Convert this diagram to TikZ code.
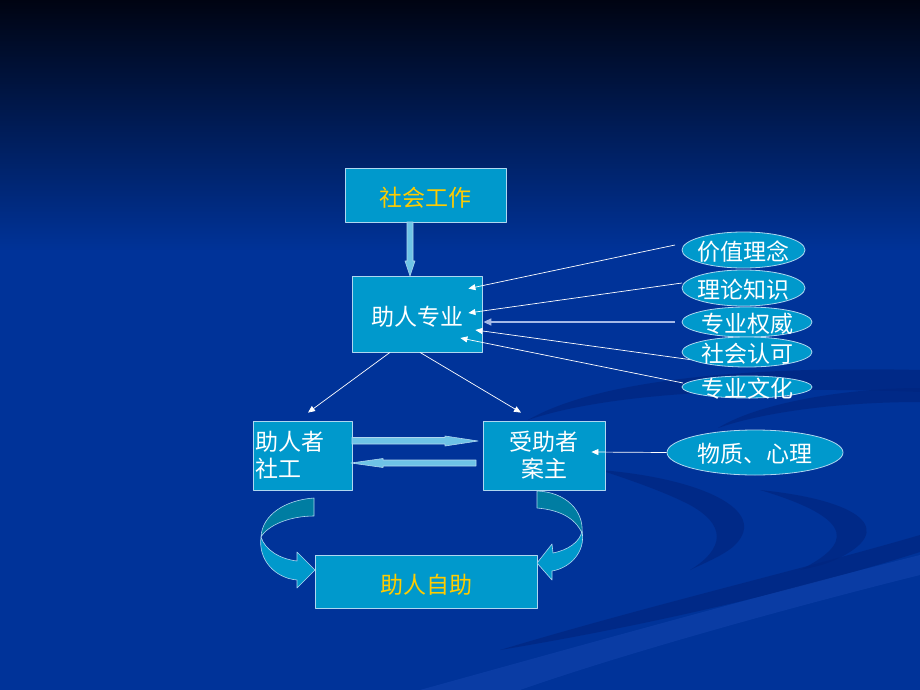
\documentclass[tikz,border=0pt]{standalone}
\usepackage{fontspec}
\newfontfamily\cjk{Noto Sans CJK SC}
\usetikzlibrary{shapes.geometric,arrows.meta,calc}
\definecolor{bgblue}{RGB}{0,51,153}
\definecolor{topdark}{RGB}{0,4,18}
\definecolor{boxfill}{RGB}{0,153,204}
\definecolor{boxline}{RGB}{175,215,240}
\definecolor{gold}{RGB}{255,204,0}
\definecolor{darkteal}{RGB}{0,125,162}
\definecolor{barfill}{RGB}{110,195,230}
\definecolor{thickline}{RGB}{165,185,230}
\definecolor{swdark}{RGB}{0,38,128}
\definecolor{swlight}{RGB}{20,70,175}
\newcommand\lowtext[1]{\raisebox{-3pt}[\height][\depth]{#1}}
\begin{document}
\begin{tikzpicture}[x=1pt,y=-1pt,line join=round,
  txt/.style={font=\cjk\fontsize{23}{27}\selectfont},
  box/.style={txt,draw=boxline,fill=boxfill,line width=0.8pt,text=white,inner sep=2pt},
  ell/.style={ellipse,draw=boxline,fill=boxfill,line width=0.8pt,inner sep=0pt},
  lbl/.style={txt,text=white,inner sep=0pt,yshift=-1.5pt},
  conn/.style={draw=white,line width=0.7pt,-{Triangle[length=7pt,width=6pt]}},
  blockarr/.style={fill=barfill,draw=boxline,line width=0.6pt},
  ribbondark/.style={fill=darkteal,draw=boxline,line width=0.6pt},
  ribbonlight/.style={fill=boxfill,draw=boxline,line width=0.6pt},
  swd/.style={fill=swdark,opacity=0.7},
  swl/.style={fill=swlight,opacity=0.5}]
\useasboundingbox (0,0) rectangle (920,690);
% background
\shade[top color=topdark,bottom color=bgblue] (0,0) rectangle (920,252);
\fill[bgblue] (0,250) rectangle (920,690);
% swooshes
\fill[swd] (528,420) .. controls (600,378) and (760,366) .. (920,370) -- (920,392) .. controls (760,386) and (610,392) .. (528,420) -- cycle;
\fill[swd] (718,428) .. controls (760,402) and (850,388) .. (920,388) -- (920,402) .. controls (850,402) and (770,410) .. (718,428) -- cycle;
\fill[swd] (600,470) .. controls (700,478) and (770,510) .. (735,545) .. controls (725,555) and (700,565) .. (690,570) .. controls (715,555) and (735,530) .. (690,505) .. controls (665,492) and (630,480) .. (600,470) -- cycle;
\fill[swd] (760,490) .. controls (860,500) and (900,530) .. (835,560) .. controls (825,565) and (810,568) .. (800,570) .. controls (850,545) and (860,520) .. (760,490) -- cycle;
\fill[swd] (500,650) .. controls (650,605) and (800,570) .. (920,535) -- (920,552) .. controls (800,590) and (650,625) .. (500,650) -- cycle;
\fill[swl] (420,690) .. controls (600,640) and (780,590) .. (920,555) -- (920,575) .. controls (780,610) and (620,655) .. (520,690) -- cycle;

% boxes
\node[box,text=gold,minimum width=161,minimum height=54] (sw) at (425.5,195) {\lowtext{社会工作}};
\node[box,minimum width=130,minimum height=76] (hz) at (417,314) {\lowtext{助人专业}};
\node[box,minimum width=99,minimum height=69,align=left,text width=95,inner sep=2pt] (zr) at (302.5,455.5) {助人者\\社工};
\node[box,minimum width=122,minimum height=69,align=center] (jz) at (544,455.5) {受助者\\案主};
\node[box,text=gold,minimum width=222,minimum height=53] (zz) at (426,581.5) {\lowtext{助人自助}};

% connector start points
\coordinate (s1) at (675,245);
\coordinate (s2) at (682,283);
\coordinate (s3) at (675,322);
\coordinate (s4) at (693,360);
\coordinate (s5) at (683,383);

\draw[conn] (s1) -- ($(hz.north east)+(-14,13)$);
\draw[conn] (s2) -- ($(hz.east)+(-14,-1)$);
\draw[conn,draw=thickline,line width=1.6pt,-{Triangle[length=8pt,width=7pt]}] (s3) -- ($(hz.east)+(1,8)$);
\draw[conn] (s4) -- ($(hz.east)+(-7,16)$);
\draw[conn] (s5) -- ($(hz.east)+(-22,24)$);

% ellipses
\node[ell,minimum width=123,minimum height=36,label={[lbl]center:价值理念}] (e1) at (743.5,250) {};
\node[ell,minimum width=123,minimum height=36,label={[lbl]center:理论知识}] (e2) at (743.5,288) {};
\node[ell,minimum width=130,minimum height=30,label={[lbl]center:专业权威}] (e3) at (747,322) {};
\node[ell,minimum width=130,minimum height=30,label={[lbl]center:社会认可}] (e4) at (747,352) {};
\node[ell,minimum width=130,minimum height=22,label={[lbl]center:专业文化}] (e5) at (747,387) {};
\node[ell,minimum width=176,minimum height=45,label={[lbl]center:物质、心理}] (e6) at (755,452.5) {};

\draw[conn] (e6.west) -- ($(jz.east)+(-14,-3.5)$);

% lines from 助人专业
\draw[conn] ($(hz.south)+(-27,0)$) -- ($(zr.north)+(5.5,-8)$);
\draw[conn] ($(hz.south)+(3,0)$) -- ($(jz.north)+(-23,-8)$);

% block arrows
\draw[blockarr] (407,222) -- (407,261) -- (405,261) -- (410,276) -- (415,261) -- (413,261) -- (413,222) -- cycle;
\draw[blockarr] (352,437.5) -- (445,437.5) -- (445,436) -- (478,441) -- (445,446) -- (445,444) -- (352,444) -- cycle;
\draw[blockarr] (476,460) -- (383,460) -- (383,458.5) -- (351,463) -- (383,467.5) -- (383,466) -- (476,466) -- cycle;

% curved ribbon arrows
\draw[ribbondark] (314,498) .. controls (285,500) and (262,515) .. (261,537) .. controls (268,525) and (290,516) .. (314,516) -- cycle;
\draw[ribbonlight] (261,537) .. controls (258,560) and (275,578) .. (297,580) -- (297,588) -- (315,570) -- (297,552) -- (297,561) .. controls (280,559) and (265,550) .. (261,537) -- cycle;
\draw[ribbondark] (537,491) .. controls (565,492) and (584,510) .. (582,533) .. controls (575,518) and (560,510) .. (537,508) -- cycle;
\draw[ribbonlight] (582,531) .. controls (586,552) and (570,568) .. (552,571) -- (552,580) -- (537,563) -- (552,544) -- (553,553) .. controls (568,550) and (580,542) .. (582,531) -- cycle;
\end{tikzpicture}
\end{document}
